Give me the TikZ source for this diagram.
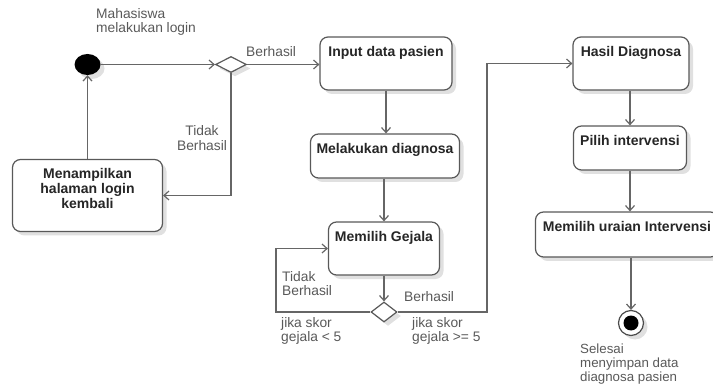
\documentclass[tikz,border=0pt]{standalone}
\usepackage{fontspec}
\setmainfont{Liberation Sans}
\usetikzlibrary{arrows.meta,shapes.geometric,shadows}
\begin{document}
\begin{tikzpicture}[x=1pt,y=-1pt,
 font=\fontsize{13.8}{14.5}\selectfont,
 line/.style={draw=black!60, line width=1.2pt},
 arr/.style={line, -{Straight Barb[length=5pt,width=9pt]}},
 shad/.style={drop shadow={shadow xshift=4pt,shadow yshift=-4pt,fill=black!12,opacity=1}},
 act/.style={draw=black!65, line width=1.2pt, rounded corners=8pt, fill=white, shad, inner sep=0pt},
 acttext/.style={font=\fontsize{14}{15}\selectfont\bfseries, text=black!85, align=center, anchor=north, inner sep=0pt, yshift=-9.5pt},
 lbl/.style={text=black!65, align=left, inner sep=0pt},
 dec/.style={diamond, draw=black!65, line width=1.2pt, fill=white, shad, inner sep=0pt},
]
\useasboundingbox (0,0) rectangle (713,385);

% initial and final nodes
\node[ellipse, fill=black, minimum width=26pt, minimum height=21pt, inner sep=0pt, shad] (start) at (87.5,64.5) {};
\node[circle, draw=black!70, line width=1.2pt, fill=white, minimum size=25pt, inner sep=0pt, shad] (end) at (631,323) {};
\node[circle, fill=black, minimum size=15pt, inner sep=0pt] (endin) at (end) {};

% decisions
\node[dec, minimum width=31pt, minimum height=16pt] (d1) at (231,64.5) {};
\node[dec, minimum width=26pt, minimum height=20pt] (d2) at (384,312) {};

% actions
\node[act, minimum width=132pt, minimum height=53pt, label={[acttext]north:Input data pasien}] (input) at (386,63.5) {};
\node[act, minimum width=149pt, minimum height=44pt, label={[acttext]north:Melakukan diagnosa}] (melak) at (385,156) {};
\node[act, minimum width=111pt, minimum height=53pt, label={[acttext]north:Memilih Gejala}] (gejala) at (384,248.5) {};
\node[act, minimum width=116pt, minimum height=53pt, label={[acttext]north:Hasil Diagnosa}] (hasil) at (631,63.5) {};
\node[act, minimum width=113pt, minimum height=44pt, label={[acttext]north:Pilih intervensi}] (pilih) at (630,148) {};
\node[act, minimum width=183pt, minimum height=45pt, label={[acttext]north:Memilih uraian Intervensi}] (uraian) at (627,234.5) {};
\node[act, minimum width=150pt, minimum height=72pt, label={[acttext]north:Menampilkan\\halaman login\\kembali}] (back) at (87.5,195.5) {};

% connectors
\coordinate (lp) at (276,312);
\coordinate (rp) at (487,312);
\draw[arr] (start.east) -- (d1.west);
\draw[arr] (d1.east) -- (input.west |- d1.east);
\draw[arr] (d1.south) |- (back.east);
\draw[arr] (back.north) -- (start.south);
\draw[arr] (input.south) -- (input.south |- melak.north);
\draw[arr] (melak.south -| gejala.north) -- (gejala.north);
\draw[arr] (gejala.south) -- (d2.north);
\draw[arr] (d2.west) -- (lp) |- (gejala.west);
\draw[arr] (d2.east) -- (rp) |- (hasil.west);
\draw[arr] (hasil.south -| pilih.north) -- (pilih.north);
\draw[arr] (pilih.south) -- (pilih.south |- uraian.north);
\draw[arr] (uraian.south -| end.north) -- (end.north);

% labels
\node[lbl, anchor=north west] (l1) at (96,8) {Mahasiswa\\melakukan login};
\node[lbl, anchor=west] (l2) at (246,52) {Berhasil};
\node[lbl, align=center] (l3) at (202,138) {Tidak\\Berhasil};
\node[lbl, anchor=north west] (l4) at (282,271) {Tidak\\Berhasil};
\node[lbl, anchor=north west] (l5) at (281,317) {jika skor\\gejala < 5};
\node[lbl, anchor=west] (l6) at (404,297) {Berhasil};
\node[lbl, anchor=north west] (l7) at (412,317) {jika skor\\gejala >= 5};
\node[lbl, anchor=north west, font=\fontsize{13.3}{13.6}\selectfont] (l8) at (580,344) {Selesai\\menyimpan data\\diagnosa pasien};
\end{tikzpicture}
\end{document}
